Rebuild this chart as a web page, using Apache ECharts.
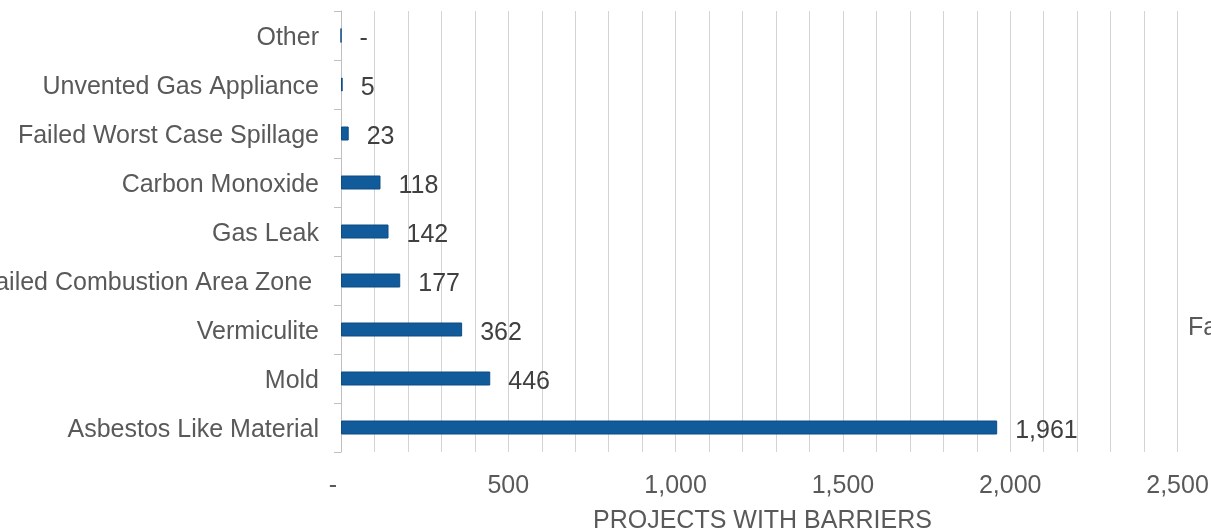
<!DOCTYPE html>
<html>
<head>
    <meta charset="utf-8">
    <title>Projects with barriers</title>
    <script src="https://cdn.jsdelivr.net/npm/echarts@6/dist/echarts.min.js"></script>
    <style>
        html, body { margin: 0; padding: 0; background: #fff; }
        #main { width: 1211px; height: 530px; }
    </style>
</head>
<body>
<div id="main"></div>
<script type="text/javascript">
    // categories, bottom to top
    var categories = [
        'Asbestos Like Material',
        'Mold',
        'Vermiculite',
        'Failed Combustion Area Zone ',
        'Gas Leak',
        'Carbon Monoxide',
        'Failed Worst Case Spillage',
        'Unvented Gas Appliance',
        'Other'
    ];
    var projects = [1961, 446, 362, 177, 142, 118, 23, 5, 0];

    var axisTitle = 'PROJECTS WITH BARRIERS';
    var xMax = 2600;
    var gridStep = 100;
    var labelStep = 500;

    var font = '"Liberation Sans", Arial, sans-serif';
    var fs = 25;

    function fmt(v) {
        if (v === 0) return '-';
        return v.toString().replace(/\B(?=(\d{3})+(?!\d))/g, ',');
    }

    var myChart = echarts.init(document.getElementById('main'));

    var option = {
        animation: false,
        backgroundColor: '#ffffff',
        title: {
            text: axisTitle,
            left: 588,
            top: 504,
            textStyle: { color: '#595959', fontSize: fs, fontWeight: 'normal', fontFamily: font }
        },
        graphic: [{
            type: 'text',
            left: 1188,
            top: 316,
            style: { text: 'Fa', fill: '#595959', font: fs + 'px ' + font }
        }],
        // labels run off the left edge in the original, so don't let the grid shrink
        grid: { left: 341, right: 0, top: 11, bottom: 78, containLabel: false, outerBoundsMode: 'none' },
        xAxis: {
            type: 'value',
            min: 0,
            max: xMax,
            interval: gridStep,
            axisLine: { show: false },
            axisTick: { show: false },
            splitLine: { show: true, lineStyle: { color: '#d4d4d4', width: 1 } },
            axisLabel: {
                margin: 22,
                color: '#595959',
                fontSize: fs,
                fontFamily: font,
                formatter: function (v) {
                    if (v === 0) return '{z|-}';
                    if (v % labelStep !== 0) return '';
                    return fmt(v);
                },
                rich: {
                    z: { color: '#595959', fontSize: fs, fontFamily: font, padding: [0, 16, 0, 0] }
                }
            }
        },
        yAxis: {
            type: 'category',
            data: categories,
            axisLine: { show: true, lineStyle: { color: '#bfbfbf', width: 1 } },
            axisTick: { show: true, length: 7, lineStyle: { color: '#bfbfbf' } },
            axisLabel: {
                margin: 22,
                color: '#595959',
                fontSize: fs,
                fontFamily: font,
                formatter: function (v) { return '{c|' + v + '}'; },
                rich: {
                    c: { color: '#595959', fontSize: fs, fontFamily: font, padding: [6, 0, 0, 0] }
                }
            }
        },
        series: [{
            type: 'bar',
            data: projects,
            barWidth: 14,
            itemStyle: { color: '#115b9b', borderColor: '#0d4c84', borderWidth: 1 },
            label: {
                show: true,
                position: 'right',
                distance: 18,
                offset: [0, 4],
                color: '#404040',
                fontSize: fs,
                fontFamily: font,
                formatter: function (p) { return fmt(p.value); }
            }
        }]
    };

    myChart.setOption(option);
</script>
</body>
</html>
